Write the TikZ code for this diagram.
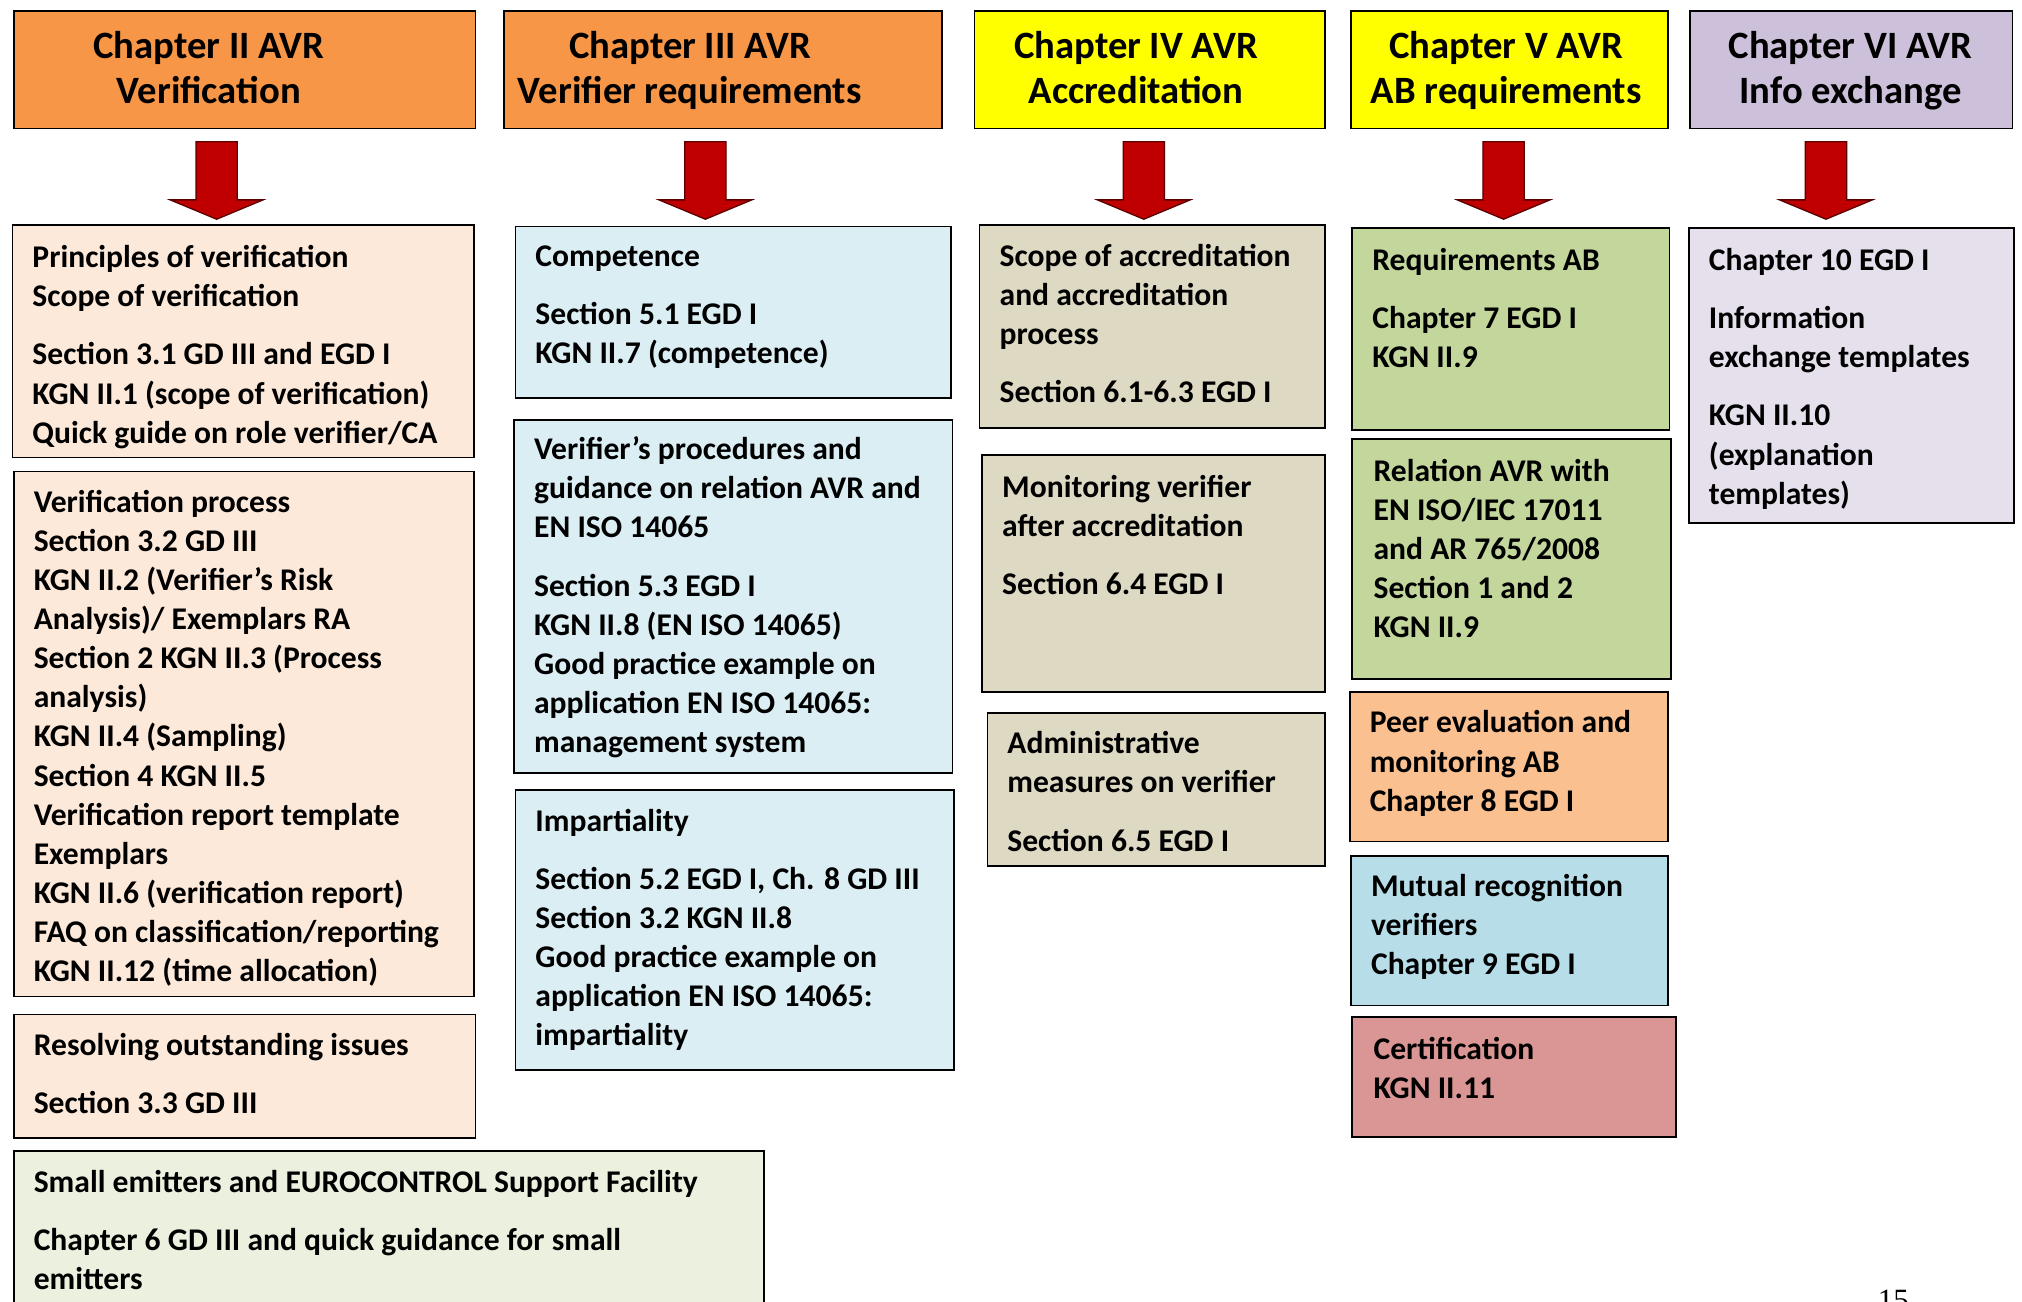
\documentclass[tikz,border=0pt]{standalone}
\usepackage{fontspec}
\setmainfont{Carlito}
\newfontfamily\pagefont{Liberation Serif}
\definecolor{hOrange}{HTML}{F79646}
\definecolor{hYellow}{HTML}{FFFF00}
\definecolor{hLav}{HTML}{CCC0DA}
\definecolor{cPeach}{HTML}{FDE9D9}
\definecolor{cBlue}{HTML}{DBEEF3}
\definecolor{cTan}{HTML}{DDD9C3}
\definecolor{cGreen}{HTML}{C3D69B}
\definecolor{cOrange}{HTML}{FAC090}
\definecolor{cBlue2}{HTML}{B7DDE8}
\definecolor{cRose}{HTML}{D99694}
\definecolor{cLav}{HTML}{E5E0EC}
\definecolor{cLGreen}{HTML}{EBF1DE}
\definecolor{arrowred}{HTML}{C00000}
\definecolor{arrowedge}{HTML}{5A0000}
\begin{document}
\begin{tikzpicture}[x=1pt,y=-1pt,
  hdr/.style={draw=black, line width=1.3pt, anchor=north west, inner sep=0pt, minimum height=91pt},
  box/.style={draw=black, line width=1.3pt, anchor=north west, inner sep=0pt},
  txt/.style={anchor=north west, align=left, inner sep=0pt, font=\bfseries\fontsize{24.5}{30.3}\selectfont},
  htxt/.style={anchor=north, align=center, inner sep=0pt, font=\bfseries\fontsize{30}{35}\selectfont},
  redarrow/.style={fill=arrowred, draw=arrowedge, line width=1pt, line join=miter}
]
\clip (0,0) rectangle (1568,1009);
\fill[white] (0,0) rectangle (1568,1009);

% headers
\node[hdr, fill=hOrange, minimum width=358pt] (h1) at (10,8) {};
\node[hdr, fill=hOrange, minimum width=340pt] (h2) at (390,8) {};
\node[hdr, fill=hYellow, minimum width=272pt] (h3) at (755,8) {};
\node[hdr, fill=hYellow, minimum width=246pt] (h4) at (1047,8) {};
\node[hdr, fill=hLav, minimum width=250pt] (h5) at (1310,8) {};
\node[htxt] (h1t) at (162,20.5) {\strut Chapter II AVR\\Verification};
\node[htxt] (h2t) at (535,20.5) {\strut Chapter III AVR\\Verifier requirements};
\node[htxt] (h3t) at (881,20.5) {\strut Chapter IV AVR\\Accreditation};
\node[htxt] (h4t) at (1168,20.5) {\strut Chapter V AVR\\AB requirements};
\node[htxt] (h5t) at (1435,20.5) {\strut Chapter VI AVR\\Info exchange};

% arrows
\foreach \cx in {168,547,887,1166,1416}{
  \draw[redarrow] (\cx-16,110) -- (\cx+16,110) -- (\cx+16,155) -- (\cx+36,155)
    -- (\cx,170) -- (\cx-36,155) -- (\cx-16,155) -- cycle;
}

% column 1
\node[box, fill=cPeach, minimum width=358pt, minimum height=180pt] (b1) at (9,174) {};
\node[box, fill=cPeach, minimum width=357pt, minimum height=407pt] (b2) at (10,365) {};
\node[box, fill=cPeach, minimum width=358pt, minimum height=96pt] (b3) at (10,786) {};
\node[box, fill=cLGreen, minimum width=582pt, minimum height=140pt] (b4) at (10,892) {};
\node[txt] (b1t) at (25,186) {\strut Principles of verification\\Scope of verification\\[15pt]Section 3.1 GD III and EGD I\\KGN II.1 (scope of verification)\\Quick guide on role verifier/CA};
\node[txt] (b2t) at (26,376) {\strut Verification process\\Section 3.2 GD III\\KGN II.2 (Verifier’s Risk\\Analysis)/ Exemplars RA\\Section 2 KGN II.3 (Process\\analysis)\\KGN II.4 (Sampling)\\Section 4 KGN II.5\\Verification report template\\Exemplars\\KGN II.6 (verification report)\\FAQ on classification/reporting\\KGN II.12 (time allocation)};
\node[txt] (b3t) at (26,797) {\strut Resolving outstanding issues\\[15pt]Section 3.3 GD III};
\node[txt] (b4t) at (26,903) {\strut Small emitters and EUROCONTROL Support Facility\\[15pt]Chapter 6 GD III and quick guidance for small\\emitters};

% column 2
\node[box, fill=cBlue, minimum width=338pt, minimum height=133pt] (c1) at (399,175) {};
\node[box, fill=cBlue, minimum width=340pt, minimum height=274pt] (c2) at (398,325) {};
\node[box, fill=cBlue, minimum width=340pt, minimum height=217pt] (c3) at (399,612) {};
\node[txt] (c1t) at (415,185) {\strut Competence\\[15pt]Section 5.1 EGD I\\KGN II.7 (competence)};
\node[txt] (c2t) at (414,335) {\strut Verifier’s procedures and\\guidance on relation AVR and\\EN ISO 14065\\[15pt]Section 5.3 EGD I\\KGN II.8 (EN ISO 14065)\\Good practice example on\\application EN ISO 14065:\\management system};
\node[txt] (c3t) at (415,623) {\strut Impartiality\\[15pt]Section 5.2 EGD I, Ch. 8 GD III\\Section 3.2 KGN II.8\\Good practice example on\\application EN ISO 14065:\\impartiality};

% column 3
\node[box, fill=cTan, minimum width=268pt, minimum height=157pt] (d1) at (759,174) {};
\node[box, fill=cTan, minimum width=266pt, minimum height=184pt] (d2) at (761,352) {};
\node[box, fill=cTan, minimum width=262pt, minimum height=119pt] (d3) at (765,552) {};
\node[txt] (d1t) at (775,185) {\strut Scope of accreditation\\and accreditation\\process\\[15pt]Section 6.1-6.3 EGD I};
\node[txt] (d2t) at (777,364) {\strut Monitoring verifier\\after accreditation\\[15pt]Section 6.4 EGD I};
\node[txt] (d3t) at (781,563) {\strut Administrative\\measures on verifier\\[15pt]Section 6.5 EGD I};

% column 4
\node[box, fill=cGreen, minimum width=246pt, minimum height=157pt] (e1) at (1048,176) {};
\node[box, fill=cGreen, minimum width=247pt, minimum height=186pt] (e2) at (1048,340) {};
\node[box, fill=cOrange, minimum width=247pt, minimum height=116pt] (e3) at (1046,536) {};
\node[box, fill=cBlue2, minimum width=246pt, minimum height=116pt] (e4) at (1047,663) {};
\node[box, fill=cRose, minimum width=251pt, minimum height=93pt] (e5) at (1048,788) {};
\node[txt] (e1t) at (1064,188) {\strut Requirements AB\\[15pt]Chapter 7 EGD I\\KGN II.9};
\node[txt] (e2t) at (1065,352) {\strut Relation AVR with\\EN ISO/IEC 17011\\and AR 765/2008\\Section 1 and 2\\KGN II.9};
\node[txt] (e3t) at (1062,547) {\strut Peer evaluation and\\monitoring AB\\Chapter 8 EGD I};
\node[txt] (e4t) at (1063,674) {\strut Mutual recognition\\verifiers\\Chapter 9 EGD I};
\node[txt] (e5t) at (1065,800) {\strut Certification\\KGN II.11};

% column 5
\node[box, fill=cLav, minimum width=252pt, minimum height=229pt] (f1) at (1309,176) {};
\node[txt] (f1t) at (1325,188) {\strut Chapter 10 EGD I\\[15pt]Information\\exchange templates\\[15pt]KGN II.10\\(explanation\\templates)};

% page number
\node[anchor=north west, inner sep=0pt, font=\pagefont\fontsize{24}{28}\selectfont] (pg) at (1456,1000) {15};
\end{tikzpicture}
\end{document}
